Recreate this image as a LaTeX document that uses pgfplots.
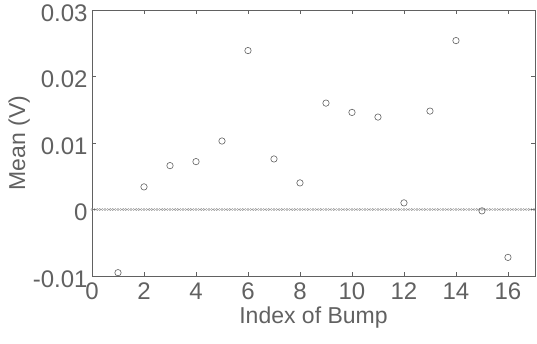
\documentclass[border=0pt]{standalone}
\usepackage{fontspec}
\setmainfont{Liberation Sans}
\usepackage{pgfplots}
\pgfplotsset{compat=1.18}
\definecolor{ink}{gray}{0.38}
\definecolor{light}{gray}{0.55}
\begin{document}
\begin{tikzpicture}[x=1pt,y=1pt]
\begin{axis}[
  name=ax,
  width=443pt, height=266pt, scale only axis,
  xmin=0, xmax=17.04, ymin=-0.01, ymax=0.03,
  xtick={0,2,...,16}, ytick={-0.01,0,0.01,0.02,0.03},
  yticklabels={-0.01,0,0.01,0.02,0.03},
  scaled y ticks=false,
  tick align=inside, tick pos=both, major tick length=4pt,
  /pgf/number format/assume math mode=true,
  tick label style={font=\fontsize{24}{26}\selectfont, color=ink},
  label style={font=\fontsize{23}{26}\selectfont, color=ink},
  xlabel={Index of Bump}, ylabel={Mean (V)},
  xticklabel style={yshift=-3pt},
  yticklabel style={xshift=-1pt, yshift=-3pt},
  xlabel style={yshift=0pt},
  ylabel style={yshift=-4pt},
  axis line style={ink, line width=0.6pt},
  every tick/.style={ink, line width=0.6pt},
  clip=false,
]
\addplot[only marks, mark=o, mark size=1.1pt, light, line width=0.3pt] coordinates {
(0,0)(0.1,0)(0.2,0)(0.3,0)(0.4,0)(0.5,0)(0.6,0)(0.7,0)(0.8,0)(0.9,0)
(1,0)(1.1,0)(1.2,0)(1.3,0)(1.4,0)(1.5,0)(1.6,0)(1.7,0)(1.8,0)(1.9,0)
(2,0)(2.1,0)(2.2,0)(2.3,0)(2.4,0)(2.5,0)(2.6,0)(2.7,0)(2.8,0)(2.9,0)
(3,0)(3.1,0)(3.2,0)(3.3,0)(3.4,0)(3.5,0)(3.6,0)(3.7,0)(3.8,0)(3.9,0)
(4,0)(4.1,0)(4.2,0)(4.3,0)(4.4,0)(4.5,0)(4.6,0)(4.7,0)(4.8,0)(4.9,0)
(5,0)(5.1,0)(5.2,0)(5.3,0)(5.4,0)(5.5,0)(5.6,0)(5.7,0)(5.8,0)(5.9,0)
(6,0)(6.1,0)(6.2,0)(6.3,0)(6.4,0)(6.5,0)(6.6,0)(6.7,0)(6.8,0)(6.9,0)
(7,0)(7.1,0)(7.2,0)(7.3,0)(7.4,0)(7.5,0)(7.6,0)(7.7,0)(7.8,0)(7.9,0)
(8,0)(8.1,0)(8.2,0)(8.3,0)(8.4,0)(8.5,0)(8.6,0)(8.7,0)(8.8,0)(8.9,0)
(9,0)(9.1,0)(9.2,0)(9.3,0)(9.4,0)(9.5,0)(9.6,0)(9.7,0)(9.8,0)(9.9,0)
(10,0)(10.1,0)(10.2,0)(10.3,0)(10.4,0)(10.5,0)(10.6,0)(10.7,0)(10.8,0)(10.9,0)
(11,0)(11.1,0)(11.2,0)(11.3,0)(11.4,0)(11.5,0)(11.6,0)(11.7,0)(11.8,0)(11.9,0)
(12,0)(12.1,0)(12.2,0)(12.3,0)(12.4,0)(12.5,0)(12.6,0)(12.7,0)(12.8,0)(12.9,0)
(13,0)(13.1,0)(13.2,0)(13.3,0)(13.4,0)(13.5,0)(13.6,0)(13.7,0)(13.8,0)(13.9,0)
(14,0)(14.1,0)(14.2,0)(14.3,0)(14.4,0)(14.5,0)(14.6,0)(14.7,0)(14.8,0)(14.9,0)
(15,0)(15.1,0)(15.2,0)(15.3,0)(15.4,0)(15.5,0)(15.6,0)(15.7,0)(15.8,0)(15.9,0)
(16,0)(16.1,0)(16.2,0)(16.3,0)(16.4,0)(16.5,0)(16.6,0)(16.7,0)(16.8,0)(16.9,0)
(17,0)
};
\addplot[only marks, mark=o, mark size=3.2pt, ink, line width=0.6pt] coordinates {
(1,-0.0095)(2,0.0034)(3,0.0066)(4,0.0072)(5,0.0103)(6,0.0239)(7,0.0076)(8,0.0040)
(9,0.0160)(10,0.0146)(11,0.0139)(12,0.0010)(13,0.0148)(14,0.0254)(15,-0.0002)(16,-0.0072)
};
\end{axis}
\pgfresetboundingbox
\path ([xshift=-92pt,yshift=-67pt]ax.south west) rectangle ([xshift=2pt,yshift=10pt]ax.north east);
\end{tikzpicture}
\end{document}
